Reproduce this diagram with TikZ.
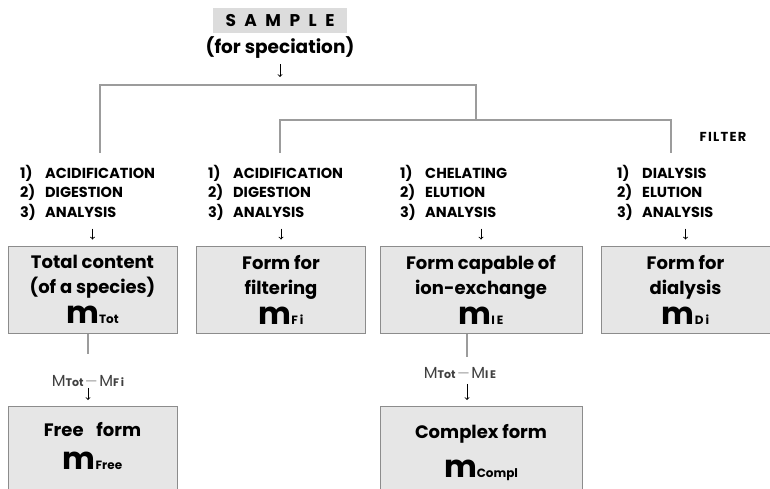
\documentclass[tikz,border=0pt]{standalone}
\usepackage{fontspec}
\setmainfont{Poppins}
\usetikzlibrary{arrows,calc,positioning}
\definecolor{boxgray}{HTML}{E6E6E6}
\definecolor{samplegray}{HTML}{DCDCDC}
\definecolor{framegray}{HTML}{8C8C8C}
\definecolor{linegray}{HTML}{9C9C9C}
\newcommand{\stepitem}[2]{\makebox[25pt][l]{#1)}#2}
\newcommand{\massof}[1]{{\fontsize{31}{31}\selectfont m}{\fontsize{12}{12}\selectfont #1}}
\newcommand{\diffof}[1]{{\mdseries\fontsize{16}{16}\selectfont M}{\fontsize{11}{11}\selectfont\bfseries #1}}
\tikzset{
	form/.style={draw=framegray, fill=boxgray, line width=1pt, minimum height=87pt,
			minimum width=169pt, align=center, inner sep=0pt,
			font=\fontsize{18}{25}\selectfont\bfseries},
	steps/.style={anchor=north west, align=left, inner sep=0pt,
			font=\fontsize{14.5}{19.5}\selectfont\bfseries},
	link/.style={draw=linegray, line width=1.2pt},
	arr/.style={->, >=to, black, line width=0.9pt},
	diff/.style={inner sep=0pt, text=black!75}
}

\begin{document}
\begin{tikzpicture}[x=1pt,y=-1pt]
	\useasboundingbox (0,0) rectangle (770,489);
	% sample on top
	\node [fill=samplegray, minimum width=134pt, minimum height=25pt, inner sep=0pt,
		font=\fontsize{17}{17}\selectfont\bfseries\addfontfeature{LetterSpace=50}] (sample) at (280,20.5) {SAMPLE};
	\node [inner sep=0pt, font=\fontsize{18.5}{18.5}\selectfont\bfseries] (spec) at (280,48) {(for speciation)};
	\node [inner sep=0pt, font=\fontsize{13}{13}\selectfont\bfseries\addfontfeature{LetterSpace=10}] (filter) at (723,137) {FILTER};

	\coordinate (top) at (280,85);
	\coordinate (leftend) at (100,153);
	\coordinate (midjoin) at (476,120);
	\coordinate (secondend) at (280,153);
	\coordinate (filtend) at (671,153);
	\draw [arr, shorten <=5pt, shorten >=8pt] (spec) -- (top);
	\draw [link] (leftend) |- (top) -| (midjoin);
	\draw [link] (secondend) |- (midjoin) -| (filtend);

	% treatments
	\node [steps] (s1) at (20,165) {\stepitem{1}{ACIDIFICATION}\\\stepitem{2}{DIGESTION}\\\stepitem{3}{ANALYSIS}};
	\node [steps] (s2) at (208,165) {\stepitem{1}{ACIDIFICATION}\\\stepitem{2}{DIGESTION}\\\stepitem{3}{ANALYSIS}};
	\node [steps] (s3) at (400,165) {\stepitem{1}{CHELATING}\\\stepitem{2}{ELUTION}\\\stepitem{3}{ANALYSIS}};
	\node [steps] (s4) at (617,165) {\stepitem{1}{DIALYSIS}\\\stepitem{2}{ELUTION}\\\stepitem{3}{ANALYSIS}};

	% forms
	\node [form] (tot) at (92.5,289.5) {Total content\\(of a species)\\[5pt]\massof{Tot}};
	\node [form] (fil) at (281,289.5) {Form for\\filtering\\[5pt]\massof{F\,i}};
	\node [form, minimum width=202pt] (ion) at (481,289.5) {Form capable of\\ion-exchange\\[5pt]\massof{I\,E}};
	\node [form] (dia) at (685.5,289.5) {Form for\\dialysis\\[5pt]\massof{D\,i}};

	\foreach \s/\f in {s1/tot, s2/fil, s3/ion, s4/dia}
		\draw [arr, shorten <=8pt, shorten >=6pt] (\f.north |- \s.south) -- (\f.north);

	% derived forms
	\node [form, anchor=north, minimum height=100pt, text depth=22pt] (free) at (92.5,406) {Free\hspace{0.5em} form\\[8pt]\massof{Free}};
	\node [form, anchor=north, minimum height=100pt, minimum width=202pt, text depth=12pt] (compl) at (481,406) {Complex form\\[14pt]\massof{Compl}};

	\coordinate (c1) at ($(tot.south)+(-4.5,0)$);
	\coordinate (c2) at ($(ion.south)+(-14,0)$);
	\node [diff] (dfree) at (88,381) {\diffof{Tot}\,{\color{linegray}\fontsize{14}{14}\selectfont\textemdash}\,\diffof{F\,i}};
	\node [diff] (dcompl) at (460,373) {\diffof{Tot}\,{\color{linegray}\fontsize{14}{14}\selectfont\textemdash}\,\diffof{I\,E}};
	\draw [link] (c1) -- +(0,20);
	\draw [link] (c2) -- +(0,23);
	\draw [arr, shorten <=1pt, shorten >=6pt] (dfree.south -| c1) -- (free.north -| c1);
	\draw [arr, shorten <=5pt, shorten >=6pt] (dcompl.south -| c2) -- (compl.north -| c2);
\end{tikzpicture}
\end{document}
